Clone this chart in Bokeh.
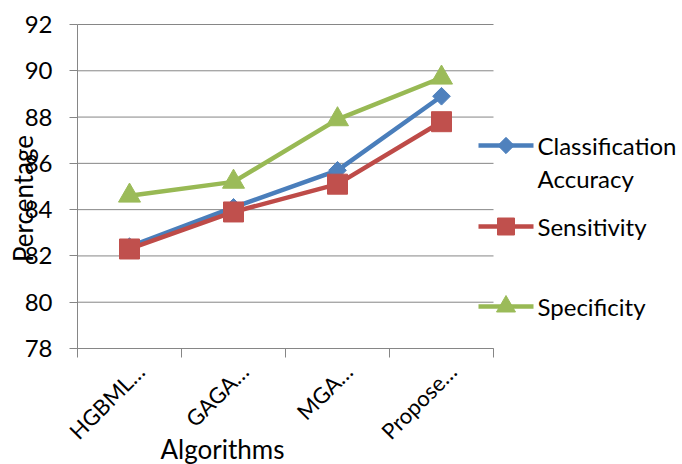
import math

from bokeh.embed import file_html
from bokeh.models import FixedTicker, Label
from bokeh.plotting import figure
from bokeh.resources import INLINE

# --- data -------------------------------------------------------------
categories = ["HGBML…", "GAGA…", "MGA…", "Propose…"]
accuracy = [82.4, 84.1, 85.7, 88.9]
sensitivity = [82.3, 83.9, 85.1, 87.8]
specificity = [84.6, 85.2, 87.9, 89.7]
y_ticks = [78, 80, 82, 84, 86, 88, 90, 92]
series_names = ["Classification\nAccuracy", "Sensitivity", "Specificity"]

# --- layout -----------------------------------------------------------
W, H = 682, 464
# plotting area inside the canvas (pixels)
LEFT, RIGHT, TOP, BOTTOM = 77, 493, 24, 348
Y0, Y1 = y_ticks[0], y_ticks[-1]
FONT = "Lato"
GRAY = "#868686"
NCAT = len(categories)

PX_X = (RIGHT - LEFT) / NCAT          # pixels per category
PX_Y = (BOTTOM - TOP) / (Y1 - Y0)     # pixels per percent
X_START = -LEFT / PX_X
X_END = X_START + W / PX_X
Y_END = Y1 + TOP / PX_Y
Y_START = Y_END - H / PX_Y


def dx(px):
    """Canvas x (pixels from the left edge) to data x."""
    return X_START + px / PX_X


def dy(py):
    """Canvas y (pixels from the top edge) to data y."""
    return Y_END - py / PX_Y


x = [i + 0.5 for i in range(NCAT)]

p = figure(
    width=W, height=H,
    x_range=(X_START, X_END), y_range=(Y_START, Y_END),
    output_backend="svg", toolbar_location=None,
    min_border=0, outline_line_color=None,
    background_fill_color="white", border_fill_color="white",
)
p.xgrid.visible = False
p.ygrid.visible = False

# y axis pinned to the left edge of the plotting area
p.yaxis.fixed_location = 0
p.yaxis.bounds = (Y0, Y1)
p.yaxis.ticker = FixedTicker(ticks=y_ticks)
p.yaxis.axis_line_color = GRAY
p.yaxis.major_tick_line_color = GRAY
p.yaxis.major_tick_out = 8
p.yaxis.major_tick_in = 0
p.yaxis.minor_tick_out = 0
p.yaxis.minor_tick_in = 0
p.yaxis.major_label_standoff = 17
p.yaxis.major_label_text_font = FONT
p.yaxis.major_label_text_font_size = "24px"
p.yaxis.major_label_text_color = "black"

# x axis pinned to the bottom; tick marks on category boundaries
p.xaxis.fixed_location = Y0
p.xaxis.bounds = (0, NCAT)
p.xaxis.ticker = FixedTicker(ticks=list(range(NCAT + 1)))
p.xaxis.major_label_overrides = {i: "" for i in range(NCAT + 1)}
p.xaxis.axis_line_color = GRAY
p.xaxis.major_tick_line_color = GRAY
p.xaxis.major_tick_out = 9
p.xaxis.major_tick_in = 0
p.xaxis.minor_tick_out = 0
p.xaxis.minor_tick_in = 0

# horizontal gridlines across the plotting area
p.segment(x0=0, x1=NCAT, y0=y_ticks, y1=y_ticks, line_color=GRAY, line_width=1)

# --- series and legend ------------------------------------------------
# (line colour, marker colour, marker, angle, size in plot, size in legend)
styles = [
    ("#4A7EBB", "#4F81BD", "square", math.pi / 4, 12.5, 11.5),
    ("#BE4B48", "#C0504D", "square", 0, 20, 17),
    ("#98B954", "#9BBB59", "triangle", 0, 22, 19),
]
legend_rows = [145, 226, 306]       # canvas y of each legend entry
LEG_X0, LEG_X1, LEG_TEXT = 478, 533, 537

for name, vals, row, (lc, fc, mk, ang, sz, lsz) in zip(
        series_names, [accuracy, sensitivity, specificity], legend_rows, styles):
    p.line(x, vals, line_color=lc, line_width=4.5)
    p.scatter(x, vals, marker=mk, angle=ang, size=sz, fill_color=fc, line_color=fc)

    # legend swatch: short line with the series marker
    ly = dy(row)
    p.line([dx(LEG_X0), dx(LEG_X1)], [ly, ly], line_color=lc, line_width=4.5)
    p.scatter([dx((LEG_X0 + LEG_X1) / 2)], [ly], marker=mk, angle=ang, size=lsz,
              fill_color=fc, line_color=fc)
    for k, line_text in enumerate(name.split("\n")):
        p.add_layout(Label(x=dx(LEG_TEXT), y=dy(row + 33 * k), text=line_text,
                           text_align="left", text_baseline="middle", text_font=FONT,
                           text_font_size="24px", text_color="black"))

# rotated category names
for xi, name in zip(x, categories):
    p.add_layout(Label(x=xi, y=dy(367), x_offset=11, text=name, angle=math.pi / 4,
                       text_align="right", text_baseline="middle", text_font=FONT,
                       text_font_size="22px", text_color="black"))

# axis titles
p.add_layout(Label(x=dx(22), y=dy(198), text="Percentage", angle=math.pi / 2,
                   text_align="center", text_baseline="middle", text_font=FONT,
                   text_font_size="26px", text_color="black"))
p.add_layout(Label(x=dx(222), y=dy(448), text="Algorithms", text_align="center",
                   text_baseline="middle", text_font=FONT, text_font_size="26px",
                   text_color="black"))

open("out.html", "w").write(file_html(p, INLINE))
